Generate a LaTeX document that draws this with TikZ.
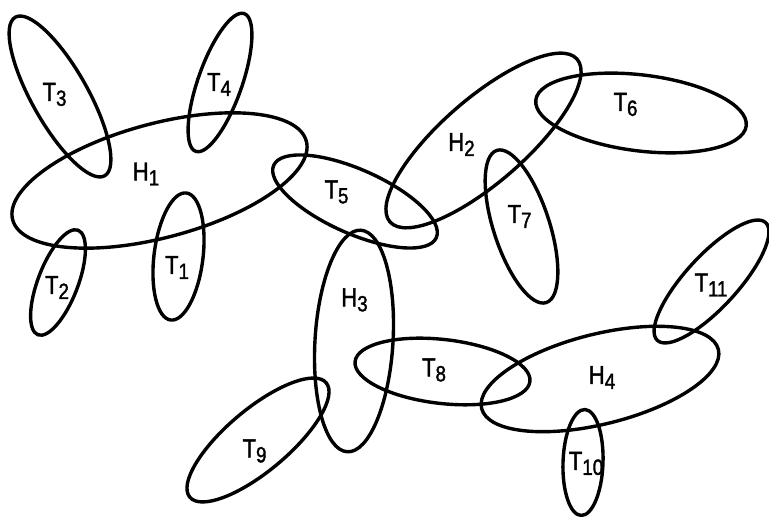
\documentclass[tikz,border=0pt]{standalone}
\usepackage{fontspec}
\setmainfont{Liberation Sans}
\newfontfamily\lblfont[FakeStretch=0.85, FakeBold=1.6]{Liberation Sans}
\newcommand\hsub[2]{#1\raisebox{-2.5pt}{\fontsize{11}{12}\selectfont #2}}

\begin{document}
\begin{tikzpicture}[x=0.5pt, y=0.5pt,
    edge/.style={line width=1.7pt},
    lbl/.style={font=\lblfont\fontsize{13}{14}\selectfont, inner sep=0pt}]
  \useasboundingbox (0,0) rectangle (769,517);

  % hyperedges: centre / radii / tilt
  \foreach \cx/\cy/\ra/\rb/\tilt in {
      159.5/336.5/152/57/15,   483.5/376.5/124/42/41,
      354/176/111/39/86.5,     600/138/122/45/14,
      178.5/260.5/64/24.5/83,  58/234.5/56/20/69,
      60/420.5/91/28/-60.6,    220/434.5/73/22/70.6,
      355/315.5/89/32/-24,     641/404/106/38/-7,
      521.5/290.5/80/28/-72,   442.5/145.5/88/32/-6.5,
      258/77/89/31/40,         583/54.5/53/20/88,
      711.5/235.5/80/26/47.4}
    \draw[edge, rotate around={\tilt:(\cx,\cy)}] (\cx,\cy) ellipse [x radius=\ra, y radius=\rb];

  % labels
  \foreach \nm/\lx/\ly/\txt in {
      h1/146/343/\hsub{H}{1},    h2/461.5/372.5/\hsub{H}{2},
      h3/354.5/217/\hsub{H}{3},  h4/602/139.5/\hsub{H}{4},
      t1/177/249.5/\hsub{T}{1},  t2/57/229.5/\hsub{T}{2},
      t3/54.5/422.5/\hsub{T}{3}, t4/219/432.5/\hsub{T}{4},
      t5/336.5/325/\hsub{T}{5},  t6/625.5/412.5/\hsub{T}{6},
      t7/519.5/300.5/\hsub{T}{7}, t8/434/147/\hsub{T}{8},
      t9/254.5/66/\hsub{T}{9},   t10/586/53.5/\hsub{T}{10},
      t11/711/232/\hsub{T}{11}}
    \node[lbl] (\nm) at (\lx,\ly) {\txt};
\end{tikzpicture}
\end{document}
